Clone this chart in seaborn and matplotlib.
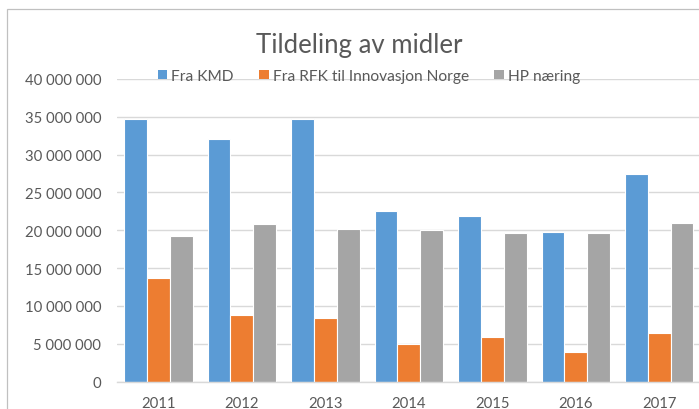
import pandas as pd
import matplotlib
matplotlib.use("Agg")
import matplotlib.pyplot as plt
from matplotlib.patches import Rectangle
from matplotlib.ticker import FuncFormatter, MultipleLocator
import seaborn as sns

# data
years = ["2011", "2012", "2013", "2014", "2015", "2016", "2017"]
fra_kmd = [34_700_000, 32_000_000, 34_700_000, 22_500_000, 21_900_000, 19_800_000, 27_500_000]
fra_rfk = [13_650_000, 8_800_000, 8_400_000, 4_950_000, 5_900_000, 3_950_000, 6_450_000]
hp_naering = [19_250_000, 20_800_000, 20_200_000, 20_000_000, 19_600_000, 19_600_000, 20_950_000]
series = ["Fra KMD", "Fra RFK til Innovasjon Norge", "HP næring"]
colors = ["#5B9BD5", "#ED7D31", "#A5A5A5"]

df = pd.DataFrame({
    "År": years * 3,
    "Beløp": fra_kmd + fra_rfk + hp_naering,
    "Serie": [s for s in series for _ in years],
})

sns.set_style("white")
plt.rcParams["font.family"] = ["Lato", "DejaVu Sans"]
text_col = "#595959"

W, H = 699, 410
fig = plt.figure(figsize=(W / 100, H / 100), dpi=100)

# outer chart border (cropped on the right and bottom)
fig.patches.append(Rectangle((7 / W, -0.1), 1.2, 1 - 10 / H + 0.1, transform=fig.transFigure,
                             fill=False, edgecolor="#C0C0C0", linewidth=0.9))

ax = fig.add_axes([116.6 / W, (H - 382.7) / H, (701 - 116.6) / W, (382.7 - 79.9) / H])
sns.barplot(data=df, x="År", y="Beløp", hue="Serie", palette=colors, saturation=1,
            width=0.82, edgecolor="white", linewidth=0.8, ax=ax, legend=False)

ax.set_ylim(0, 40_000_000)
ax.yaxis.set_major_locator(MultipleLocator(5_000_000))
ax.yaxis.set_major_formatter(FuncFormatter(lambda v, p: f"{int(v):,}".replace(",", " ")))
ax.grid(axis="y", color="#D9D9D9", linewidth=1.0)
ax.set_axisbelow(True)
for s in ["top", "right", "left"]:
    ax.spines[s].set_visible(False)
ax.spines["bottom"].set_color("#D9D9D9")
ax.spines["bottom"].set_linewidth(1.0)
ax.tick_params(axis="y", length=0, pad=11, labelsize=10.7, labelcolor=text_col)
ax.tick_params(axis="x", length=0, pad=10, labelsize=10.7, labelcolor=text_col)
ax.set_xlabel("")
ax.set_ylabel("")

fig.text(359 / W, 1 - 53.5 / H, "Tildeling av midler", ha="center", va="baseline",
         fontsize=18.5, color=text_col)

handles = [Rectangle((0, 0), 1, 1, facecolor=c, edgecolor="none") for c in colors]
fig.legend(handles, series, loc="center", bbox_to_anchor=(369 / W, 1 - 77 / H),
           ncol=3, frameon=False, fontsize=11.2, labelcolor=text_col,
           handlelength=0.6, handleheight=0.6, handletextpad=0.25, columnspacing=1.65)

fig.savefig("out.png", dpi=100)
